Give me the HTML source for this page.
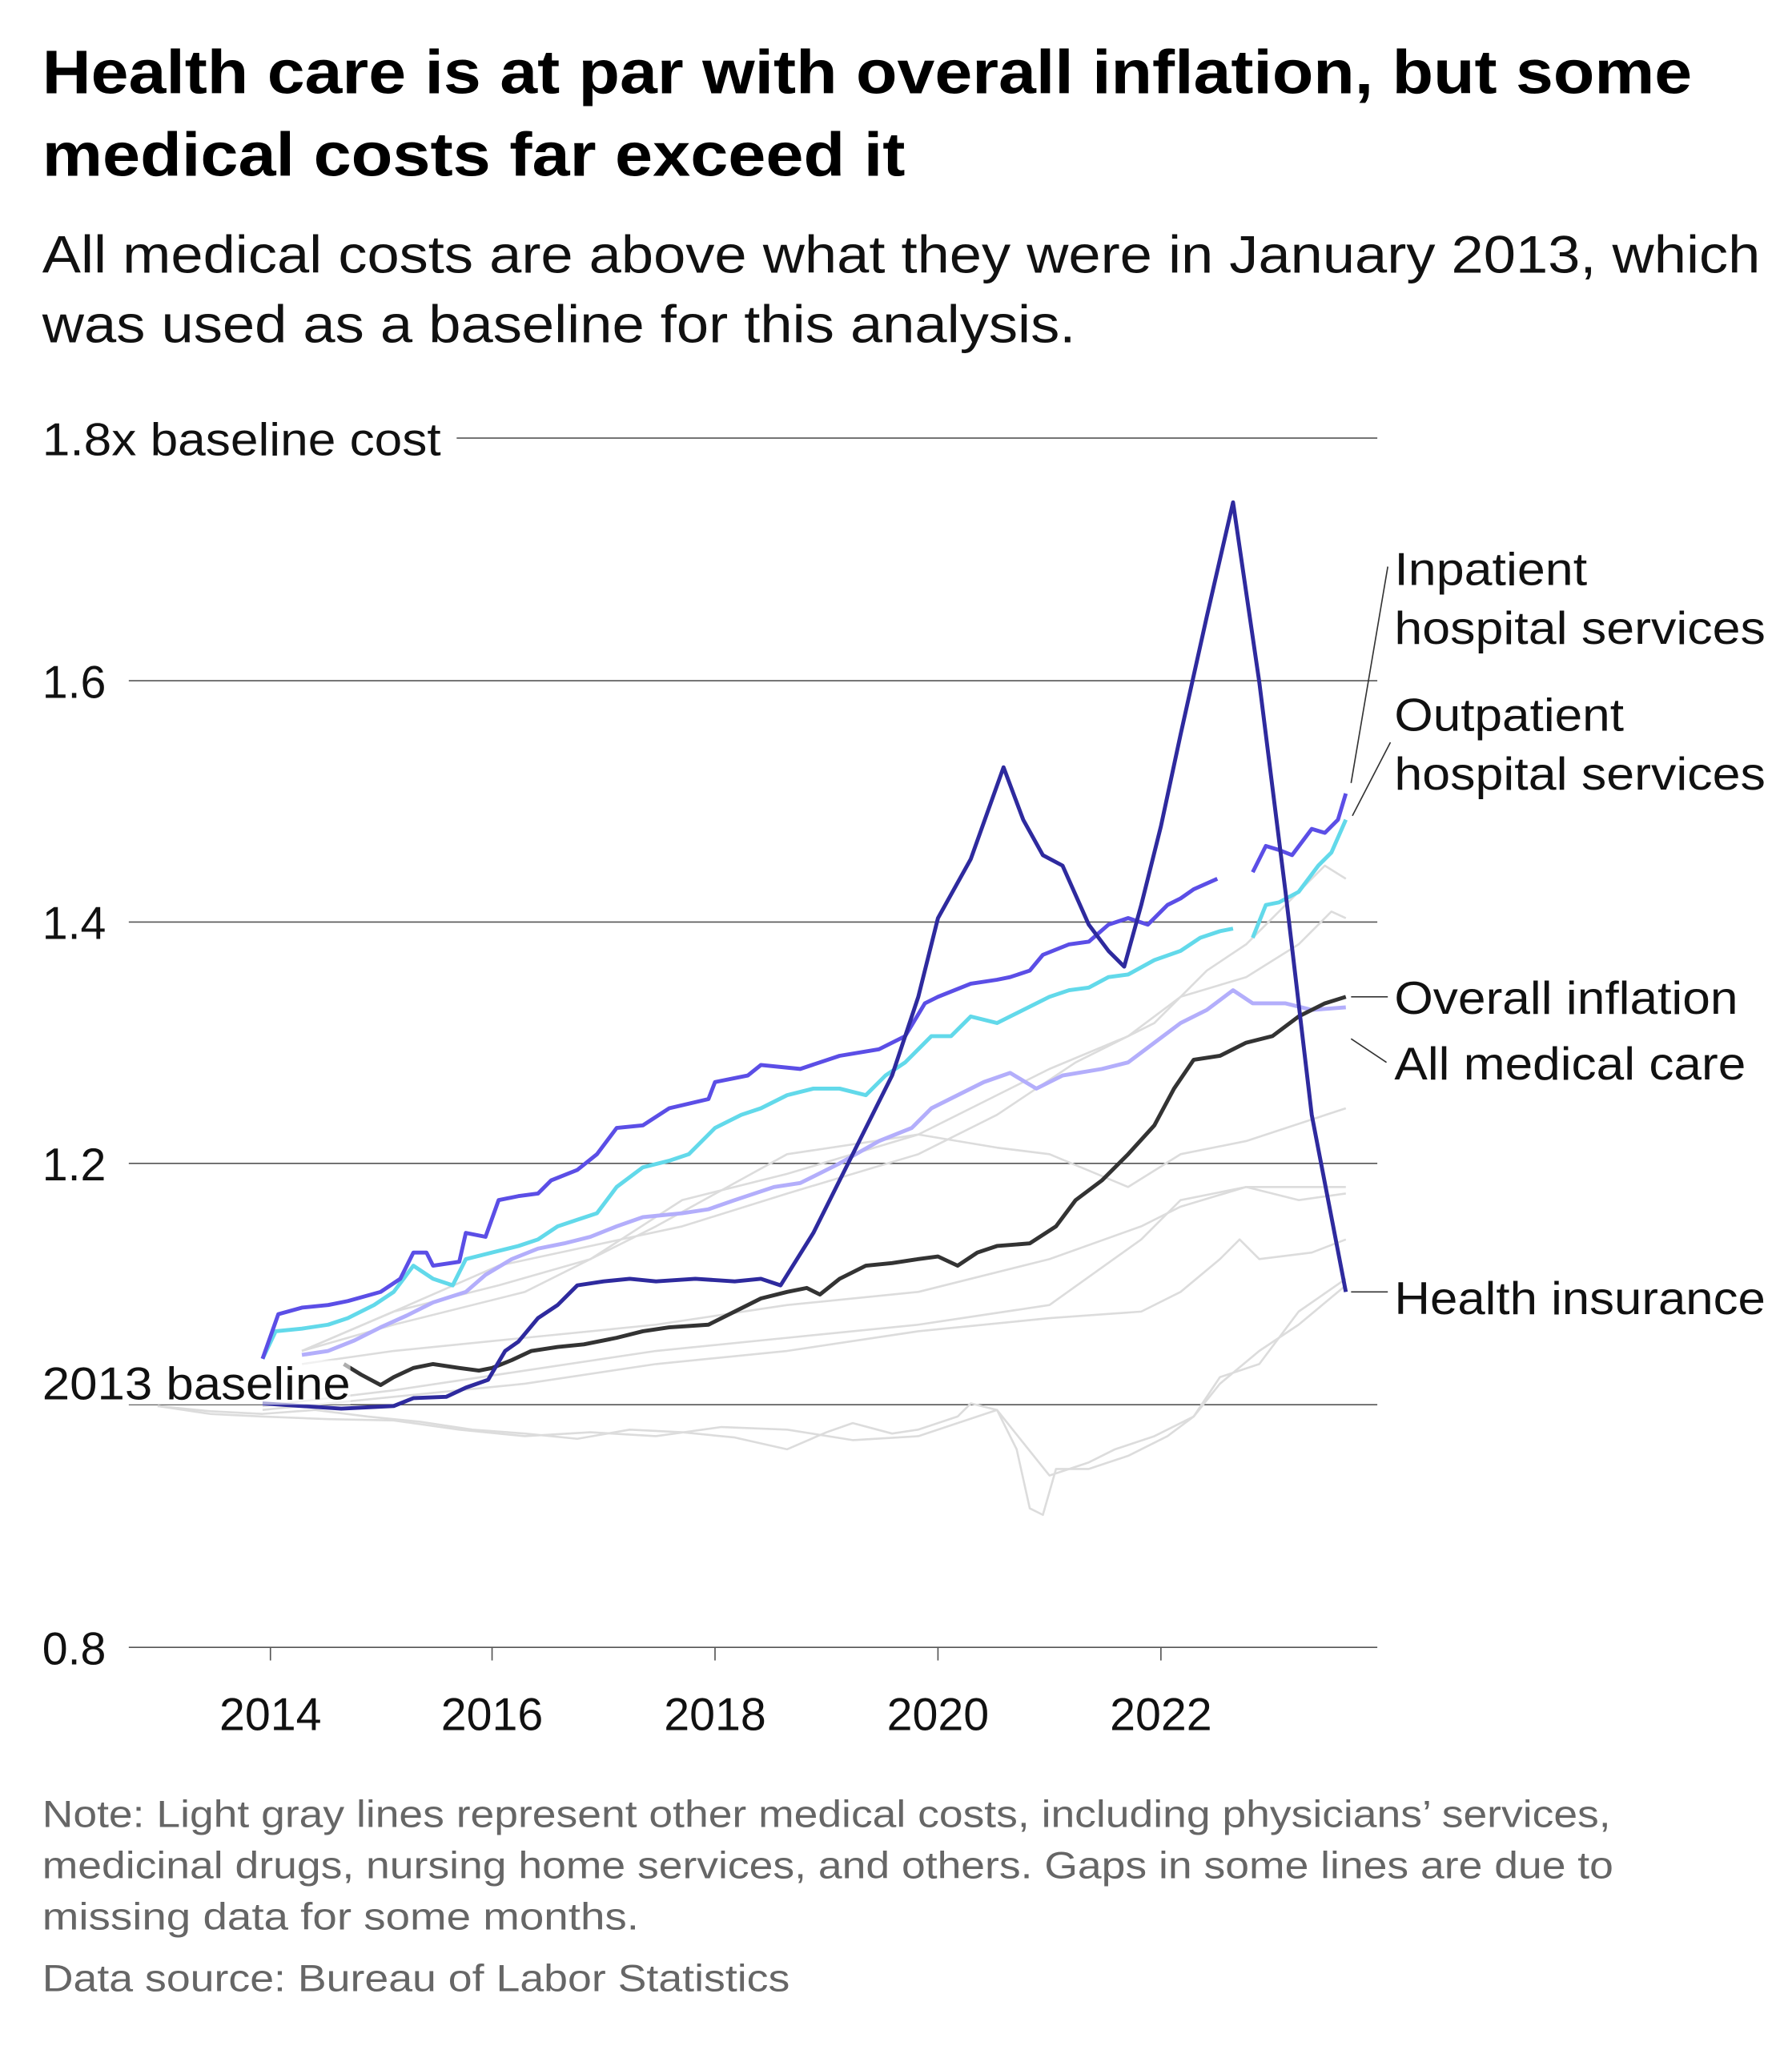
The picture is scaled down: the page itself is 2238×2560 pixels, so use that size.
<!DOCTYPE html>
<html><head><meta charset="utf-8"><style>
html,body{margin:0;padding:0;background:#fff}
svg{display:block}
text{font-family:"Liberation Sans",Arial,sans-serif}
</style></head><body>
<svg width="2238" height="2560" viewBox="0 0 1366 1563" xmlns="http://www.w3.org/2000/svg">
<rect width="1366" height="1563" fill="#fff"/>
<text x="32" y="71" font-size="47" font-weight="bold" fill="#000" textLength="1258" lengthAdjust="spacingAndGlyphs">Health care is at par with overall inflation, but some</text>
<text x="32" y="134" font-size="47" font-weight="bold" fill="#000" textLength="658" lengthAdjust="spacingAndGlyphs">medical costs far exceed it</text>
<text x="32" y="208" font-size="40" fill="#111" textLength="1310" lengthAdjust="spacingAndGlyphs">All medical costs are above what they were in January 2013, which</text>
<text x="32" y="261" font-size="40" fill="#111" textLength="788" lengthAdjust="spacingAndGlyphs">was used as a baseline for this analysis.</text>

<g stroke="#555" stroke-width="1">
<line x1="348" y1="334" x2="1050" y2="334"/>
<line x1="98" y1="519" x2="1050" y2="519"/>
<line x1="98" y1="703" x2="1050" y2="703"/>
<line x1="98" y1="887" x2="1050" y2="887"/>
<line x1="98" y1="1071" x2="1050" y2="1071"/>
<line x1="98" y1="1256" x2="1050" y2="1256"/>
<line x1="206" y1="1256" x2="206" y2="1266"/>
<line x1="375" y1="1256" x2="375" y2="1266"/>
<line x1="545" y1="1256" x2="545" y2="1266"/>
<line x1="715" y1="1256" x2="715" y2="1266"/>
<line x1="885" y1="1256" x2="885" y2="1266"/>
</g>
<g font-size="35" fill="#111">
<text x="32" y="347" textLength="304" lengthAdjust="spacingAndGlyphs">1.8x baseline cost</text>
<text x="32" y="532">1.6</text>
<text x="32" y="716">1.4</text>
<text x="32" y="900">1.2</text>
<text x="32" y="1269">0.8</text>
<g text-anchor="middle">
<text x="206" y="1319">2014</text><text x="375" y="1319">2016</text><text x="545" y="1319">2018</text><text x="715" y="1319">2020</text><text x="885" y="1319">2022</text>
</g>
</g>

<g fill="none" stroke="#dcdcdc" stroke-width="1.6" stroke-linejoin="round">
<polyline points="120,1072 160,1076 200,1078 240,1075 280,1080 320,1084 360,1090 400,1093 440,1097 480,1090 520,1092 560,1096 600,1105 630,1092 650,1085 680,1093 700,1090 730,1080 740,1070 760,1075 775,1105 785,1150 795,1155 805,1120 830,1120 860,1110 890,1095 910,1080 930,1050 960,1040 990,1000 1026,975"/>
<polyline points="120,1072 160,1078 200,1080 250,1082 300,1083 350,1090 400,1095 450,1092 500,1095 550,1088 600,1090 650,1098 700,1095 760,1075 780,1100 800,1125 830,1115 850,1105 880,1095 910,1080 930,1055 960,1030 990,1010 1026,980"/>
<polyline points="200,1075 300,1065 400,1055 500,1040 600,1030 700,1015 800,1005 870,1000 900,985 930,960 945,945 960,960 1000,955 1026,945"/>
<polyline points="200,1072 300,1060 400,1045 500,1030 600,1020 700,1010 800,995 870,945 900,915 950,905 990,915 1026,910"/>
<polyline points="230,1040 300,1030 400,1020 500,1010 600,995 700,985 800,960 870,935 900,920 950,905 1026,905"/>
<polyline points="230,1030 300,1010 400,985 500,935 600,880 700,865 760,875 800,880 860,905 900,880 950,870 1026,845"/>
<polyline points="230,1030 300,1000 380,980 450,960 520,915 600,895 700,865 760,835 800,815 860,790 900,760 950,745 990,720 1015,695 1026,700"/>
<polyline points="230,1030 300,1000 380,965 450,950 520,935 600,910 700,880 760,850 820,810 880,780 920,740 950,720 990,680 1010,660 1026,670"/>
</g>

<g fill="none" stroke-width="3" stroke-linejoin="round">
<polyline stroke="#b3aefb" points="230,1033 250,1030 270,1022 290,1012 310,1003 330,993 355,985 370,972 390,960 410,952 430,948 450,943 470,935 490,928 520,925 540,922 560,915 590,905 610,902 640,887 670,870 695,860 710,845 730,835 750,825 770,818 790,830 810,820 840,815 860,810 880,795 900,780 920,770 940,755 955,765 980,765 1000,770 1026,768"/>
<polyline stroke="#62d9ea" points="200,1036 210,1015 230,1013 250,1010 265,1005 285,995 300,985 315,965 330,975 345,980 355,960 375,955 395,950 410,945 425,935 440,930 455,925 470,905 490,890 510,885 525,880 545,860 565,850 580,845 600,835 620,830 640,830 660,835 675,820 690,810 710,790 725,790 740,775 760,780 780,770 800,760 815,755 830,753 845,745 860,743 880,732 900,725 915,715 930,710 940,708"/>
<polyline stroke="#62d9ea" points="955,715 965,690 975,688 990,680 1005,660 1015,650 1026,625"/>
<polyline stroke="#5b4ee6" points="200,1036 212,1002 230,997 250,995 265,992 290,985 305,975 315,955 325,955 330,965 350,962 355,940 370,943 380,915 395,912 410,910 420,900 440,892 455,880 470,860 490,858 510,845 540,838 545,825 570,820 580,812 610,815 640,805 670,800 690,790 705,765 715,760 740,750 760,747 770,745 785,740 795,728 815,720 830,718 845,705 860,700 875,705 890,690 900,685 910,678 928,670"/>
<polyline stroke="#5b4ee6" points="955,665 965,645 975,648 985,652 1000,632 1010,635 1020,625 1026,605"/>
<polyline stroke="#333" points="262,1040 275,1048 290,1056 300,1050 315,1043 330,1040 350,1043 365,1045 375,1043 390,1037 405,1030 425,1027 445,1025 470,1020 490,1015 510,1012 540,1010 560,1000 580,990 600,985 615,982 625,987 640,975 660,965 680,963 700,960 715,958 730,965 745,955 760,950 785,948 805,935 820,915 840,900 860,880 880,858 895,830 910,808 930,805 950,795 970,790 990,775 1010,765 1026,760"/>
<polyline stroke="#2e2a9e" points="200,1070 260,1074 300,1072 315,1066 340,1065 355,1058 372,1052 385,1030 395,1023 410,1005 425,995 440,980 460,977 480,975 500,977 530,975 560,977 580,975 595,980 620,940 640,900 660,860 680,820 700,760 715,700 740,655 765,585 780,625 795,652 810,660 830,705 845,725 857,737 870,690 885,630 900,560 920,470 940,383 960,520 980,680 1000,850 1026,985"/>
</g>

<rect x="30" y="1037" width="237" height="34" fill="#fff" opacity="0.6"/>
<text x="32" y="1067" font-size="35" fill="#111" textLength="235" lengthAdjust="spacingAndGlyphs">2013 baseline</text>

<g stroke="#333" stroke-width="1" fill="none">
<line x1="1030" y1="597" x2="1058" y2="432"/>
<line x1="1031" y1="622" x2="1060" y2="566"/>
<line x1="1030" y1="760" x2="1058" y2="760"/>
<line x1="1030" y1="792" x2="1057" y2="810"/>
<line x1="1030" y1="985" x2="1058" y2="985"/>
</g>
<g font-size="35" fill="#111">
<text x="1063" y="446" textLength="147" lengthAdjust="spacingAndGlyphs">Inpatient</text>
<text x="1063" y="491" textLength="283" lengthAdjust="spacingAndGlyphs">hospital services</text>
<text x="1063" y="557" textLength="175" lengthAdjust="spacingAndGlyphs">Outpatient</text>
<text x="1063" y="602" textLength="283" lengthAdjust="spacingAndGlyphs">hospital services</text>
<text x="1063" y="773" textLength="262" lengthAdjust="spacingAndGlyphs">Overall inflation</text>
<text x="1063" y="823" textLength="268" lengthAdjust="spacingAndGlyphs">All medical care</text>
<text x="1063" y="1002" textLength="283" lengthAdjust="spacingAndGlyphs">Health insurance</text>
</g>

<g font-size="29" fill="#666">
<text x="32" y="1393" textLength="1196" lengthAdjust="spacingAndGlyphs">Note: Light gray lines represent other medical costs, including physicians’ services,</text>
<text x="32" y="1432" textLength="1198" lengthAdjust="spacingAndGlyphs">medicinal drugs, nursing home services, and others. Gaps in some lines are due to</text>
<text x="32" y="1471" textLength="455" lengthAdjust="spacingAndGlyphs">missing data for some months.</text>
<text x="32" y="1518" textLength="570" lengthAdjust="spacingAndGlyphs">Data source: Bureau of Labor Statistics</text>
</g>
</svg>
</body></html>
